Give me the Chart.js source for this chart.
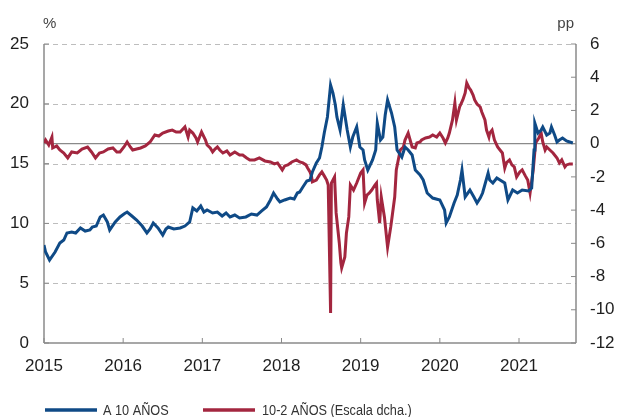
<!DOCTYPE html>
<html>
<head>
<meta charset="utf-8">
<script src="https://cdn.jsdelivr.net/npm/chart.js@4"></script>
<style>
html,body{margin:0;padding:0;background:#fff;}
canvas{display:block;}
</style>
</head>
<body>
<canvas id="c" width="618" height="417"></canvas>
<script>
// ---- DATA ----
const yearTicks = [2015, 2016, 2017, 2018, 2019, 2020, 2021];
const leftTicks = [0, 5, 10, 15, 20, 25];
const rightTicks = [-12, -10, -8, -6, -4, -2, 0, 2, 4, 6];

const tenYearLabel = 'A 10 AÑOS';
const spreadLabel = '10-2 AÑOS (Escala dcha.)';

const tenYearDates = [
2015.00,2015.02,2015.07,2015.14,2015.20,2015.25,2015.29,2015.35,2015.40,2015.46,2015.52,2015.58,2015.61,2015.66,2015.71,2015.75,2015.80,2015.83,2015.90,2015.96,
2016.01,2016.05,2016.11,2016.17,2016.24,2016.30,2016.34,2016.38,2016.44,2016.50,2016.54,2016.57,2016.64,2016.72,2016.78,2016.84,2016.88,2016.93,2016.98,2017.02,
2017.06,2017.13,2017.19,2017.25,2017.30,2017.35,2017.41,2017.47,2017.55,2017.62,2017.69,2017.75,2017.81,2017.86,2017.90,2017.95,2017.98,2018.04,2018.11,2018.16,
2018.20,2018.23,2018.27,2018.32,2018.36,2018.39,2018.44,2018.48,2018.51,2018.54,2018.58,2018.62,2018.65,2018.68,2018.70,2018.74,2018.78,2018.80,2018.83,2018.87,
2018.90,2018.95,2018.99,2019.03,2019.05,2019.09,2019.15,2019.19,2019.21,2019.25,2019.28,2019.31,2019.34,2019.39,2019.43,2019.46,2019.52,2019.56,2019.60,2019.65,
2019.69,2019.75,2019.79,2019.84,2019.91,2020.00,2020.06,2020.08,2020.12,2020.18,2020.22,2020.26,2020.28,2020.32,2020.38,2020.43,2020.47,2020.51,2020.54,2020.61,
2020.63,2020.67,2020.72,2020.76,2020.82,2020.86,2020.92,2020.98,2021.04,2021.12,2021.16,2021.19,2021.20,2021.24,2021.28,2021.30,2021.35,2021.39,2021.41,2021.45,
2021.48,2021.51,2021.55,2021.60,2021.64,2021.68
];
const tenYear = [
8.19,7.61,6.94,7.61,8.36,8.61,9.20,9.28,9.20,9.62,9.36,9.45,9.70,9.78,10.54,10.70,10.12,9.45,10.12,10.54,
10.79,10.95,10.62,10.28,9.78,9.20,9.53,10.03,9.62,9.03,9.53,9.70,9.53,9.62,9.78,10.12,11.29,11.04,11.45,10.95,
11.12,10.87,10.95,10.62,10.87,10.54,10.70,10.45,10.54,10.79,10.70,11.04,11.37,11.96,12.54,12.04,11.79,11.96,12.12,12.04,
12.54,12.63,13.04,13.55,13.63,14.30,15.05,15.47,16.39,17.56,18.90,21.57,20.90,19.90,18.90,17.81,19.90,19.06,17.81,16.39,
17.22,18.06,16.39,16.14,15.30,14.46,15.30,16.14,18.39,16.97,17.22,19.06,20.32,19.23,18.06,16.14,15.55,16.39,16.14,15.72,
14.46,14.05,13.63,12.54,12.12,11.96,11.12,10.03,10.54,11.71,12.37,13.63,14.46,12.21,12.79,12.21,11.71,12.12,12.54,14.21,
13.63,13.38,13.80,13.63,13.38,11.96,12.79,12.54,12.79,12.71,12.96,16.14,18.39,17.56,17.81,18.06,17.39,17.56,18.06,17.39,
16.81,16.97,17.14,16.89,16.81,16.72
];

const spreadDates = [
2015.00,2015.02,2015.06,2015.10,2015.11,2015.16,2015.20,2015.25,2015.30,2015.35,2015.42,2015.48,2015.55,2015.60,2015.65,2015.70,2015.75,2015.81,2015.87,2015.92,
2015.96,2016.01,2016.05,2016.09,2016.12,2016.17,2016.22,2016.28,2016.34,2016.40,2016.45,2016.50,2016.57,2016.62,2016.67,2016.72,2016.78,2016.82,2016.84,2016.88,
2016.92,2016.94,2016.99,2017.04,2017.06,2017.10,2017.13,2017.16,2017.19,2017.22,2017.26,2017.31,2017.35,2017.41,2017.47,2017.51,2017.56,2017.60,2017.66,2017.72,
2017.79,2017.86,2017.91,2017.95,2018.01,2018.04,2018.08,2018.13,2018.19,2018.23,2018.27,2018.31,2018.33,2018.36,2018.38,2018.39,2018.44,2018.48,2018.51,2018.54,
2018.57,2018.59,2018.62,2018.63,2018.67,2018.69,2018.73,2018.75,2018.76,2018.80,2018.82,2018.85,2018.87,2018.91,2018.95,2019.00,2019.03,2019.05,2019.08,2019.11,
2019.14,2019.18,2019.20,2019.21,2019.24,2019.26,2019.30,2019.34,2019.38,2019.40,2019.43,2019.45,2019.50,2019.54,2019.56,2019.60,2019.65,2019.69,2019.71,2019.75,
2019.77,2019.82,2019.87,2019.91,2019.96,2020.00,2020.04,2020.07,2020.10,2020.12,2020.16,2020.19,2020.21,2020.25,2020.29,2020.32,2020.34,2020.37,2020.39,2020.42,
2020.44,2020.47,2020.51,2020.53,2020.57,2020.59,2020.62,2020.63,2020.66,2020.69,2020.73,2020.76,2020.79,2020.82,2020.84,2020.88,2020.91,2020.94,2020.97,2021.01,
2021.04,2021.08,2021.11,2021.14,2021.18,2021.21,2021.25,2021.28,2021.30,2021.33,2021.35,2021.39,2021.43,2021.48,2021.51,2021.54,2021.58,2021.60,2021.64,2021.68
];
const spread = [
0.04,0.22,-0.08,0.40,-0.26,-0.14,-0.38,-0.56,-0.86,-0.50,-0.56,-0.32,-0.20,-0.50,-0.86,-0.56,-0.50,-0.32,-0.26,-0.50,
-0.50,-0.20,0.10,-0.20,-0.38,-0.32,-0.26,-0.14,0.10,0.52,0.46,0.64,0.76,0.82,0.70,0.70,1.01,0.40,0.82,0.64,
0.34,0.10,0.70,0.22,-0.08,-0.26,-0.50,-0.32,-0.20,-0.38,-0.56,-0.44,-0.68,-0.50,-0.68,-0.68,-0.86,-0.98,-0.98,-0.86,
-1.04,-1.10,-1.22,-1.16,-1.58,-1.34,-1.28,-1.10,-0.98,-1.10,-1.16,-1.28,-1.46,-1.70,-2.00,-2.30,-2.19,-1.88,-1.70,-1.94,
-2.19,-2.49,-10.19,-2.37,-2.00,-4.17,-5.98,-7.18,-7.48,-6.82,-5.38,-4.41,-2.49,-2.79,-2.37,-1.76,-1.58,-3.57,-3.09,-2.97,
-2.79,-2.49,-2.37,-3.39,-4.77,-3.21,-4.41,-6.23,-5.01,-4.29,-3.21,-1.58,-0.38,-0.20,0.22,0.64,-0.20,-0.26,0.04,0.10,
0.22,0.34,0.40,0.52,0.40,0.64,0.34,0.04,0.34,0.64,1.43,2.45,1.43,2.21,2.63,3.05,3.65,3.35,3.23,2.93,
2.63,2.39,2.21,1.91,1.43,0.82,0.40,0.64,0.82,0.22,-0.20,-0.38,-0.56,-1.46,-1.16,-0.98,-1.28,-1.40,-2.00,-1.70,
-1.58,-1.94,-2.19,-2.97,-1.58,0.04,0.34,0.64,0.10,-0.38,-0.20,-0.38,-0.56,-0.86,-1.16,-0.98,-1.40,-1.28,-1.22,-1.22
];

// ---- STYLE ----
const BLUE = '#0f4a86';
const RED = '#a3263f';
const AXIS = '#8a8a8a';
const GRID = '#bdbdbd';
const TEXT = '#1e1e1e';
const FONT = "'Liberation Sans', Arial, sans-serif";

const toPts = (xs, ys) => xs.map((x, i) => ({x: x, y: ys[i]}));

const deco = {
  id: 'deco',
  beforeDatasetsDraw(chart) {
    const {ctx, chartArea: a, scales: {x, y, y2}} = chart;
    ctx.save();
    const line = (x1, y1, x2, y2_) => { ctx.beginPath(); ctx.moveTo(x1, y1); ctx.lineTo(x2, y2_); ctx.stroke(); };
    // dashed grid
    ctx.strokeStyle = GRID; ctx.lineWidth = 1; ctx.setLineDash([5, 4]);
    leftTicks.forEach(v => {
      if (v === 0) return;
      const py = Math.round(y.getPixelForValue(v)) + 0.5;
      line(a.left, py, a.right, py);
    });
    ctx.setLineDash([]);
    // zero line of right scale
    ctx.strokeStyle = AXIS; ctx.lineWidth = 1.3;
    const pz = y2.getPixelForValue(0);
    line(a.left, pz, a.right, pz);
    // axes
    ctx.lineWidth = 1.5;
    line(a.left, a.top, a.left, a.bottom);
    line(a.right, a.top, a.right, a.bottom);
    line(a.left, a.bottom, a.right, a.bottom);
    // inside tick marks
    ctx.lineWidth = 1;
    leftTicks.forEach(v => { const py = y.getPixelForValue(v); line(a.left, py, a.left + 5, py); });
    rightTicks.forEach(v => { const py = y2.getPixelForValue(v); line(a.right - 5, py, a.right, py); });
    yearTicks.forEach(v => { const px = x.getPixelForValue(v); line(px, a.bottom - 5, px, a.bottom); });
    ctx.restore();
  },
  afterDraw(chart) {
    const {ctx, chartArea: a} = chart;
    ctx.save();
    ctx.fillStyle = '#444';
    ctx.font = '15px ' + FONT;
    ctx.textBaseline = 'middle';
    ctx.textAlign = 'left';
    ctx.fillText('%', a.left - 1, 24);
    ctx.textAlign = 'right';
    ctx.fillText('pp', a.right - 2, 24);
    // legend (condensed text)
    const ly = 410;
    const items = chart.data.datasets.map(d => ({label: d.label, color: d.borderColor}));
    const xs = [[45, 97, 103], [203, 255, 262]];
    items.forEach((it, i) => {
      ctx.strokeStyle = it.color; ctx.lineWidth = 3.5;
      ctx.beginPath(); ctx.moveTo(xs[i][0], ly); ctx.lineTo(xs[i][1], ly); ctx.stroke();
      ctx.save();
      ctx.translate(xs[i][2], ly + 1);
      ctx.scale(0.82, 1);
      ctx.font = '15.5px ' + FONT;
      ctx.textAlign = 'left';
      ctx.fillStyle = '#333';
      ctx.fillText(it.label, 0, 0);
      ctx.restore();
    });
    ctx.restore();
  }
};

new Chart(document.getElementById('c'), {
  type: 'line',
  data: {
    datasets: [
      {label: tenYearLabel, data: toPts(tenYearDates, tenYear), yAxisID: 'y', borderColor: BLUE, borderWidth: 3, pointRadius: 0, tension: 0, fill: false},
      {label: spreadLabel, data: toPts(spreadDates, spread), yAxisID: 'y2', borderColor: RED, borderWidth: 3, pointRadius: 0, tension: 0, fill: false}
    ]
  },
  options: {
    responsive: false,
    animation: false,
    devicePixelRatio: 1,
    layout: {padding: {top: 44, left: 0, right: 0, bottom: 0}},
    plugins: {legend: {display: false}, tooltip: {enabled: false}},
    scales: {
      x: {
        type: 'linear', min: 2015, max: 2021.72,
        grid: {display: false, drawTicks: false}, border: {display: false},
        afterBuildTicks: s => { s.ticks = yearTicks.map(v => ({value: v})); },
        afterFit: s => { s.height = 74; },
        ticks: {color: TEXT, font: {family: FONT, size: 17}, padding: 13, maxRotation: 0, callback: v => String(v)}
      },
      y: {
        position: 'left', min: 0, max: 25,
        grid: {display: false, drawTicks: false}, border: {display: false},
        afterBuildTicks: s => { s.ticks = leftTicks.map(v => ({value: v})); },
        afterFit: s => { s.width = 44; },
        ticks: {color: TEXT, font: {family: FONT, size: 17}, padding: 15}
      },
      y2: {
        position: 'right', min: -12, max: 6,
        grid: {display: false, drawTicks: false}, border: {display: false},
        afterBuildTicks: s => { s.ticks = rightTicks.map(v => ({value: v})); },
        afterFit: s => { s.width = 42; },
        ticks: {color: TEXT, font: {family: FONT, size: 17}, padding: 14}
      }
    }
  },
  plugins: [deco]
});
</script>
</body>
</html>
